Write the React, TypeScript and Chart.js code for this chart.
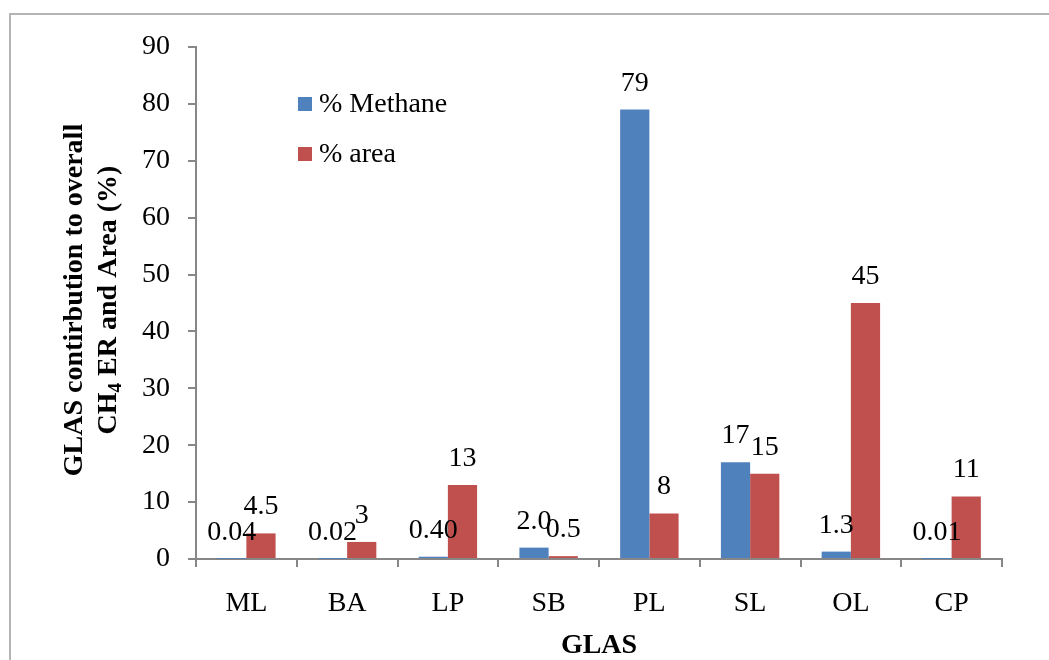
import React, { useEffect, useRef } from "react";
import { Chart, registerables } from "chart.js";

Chart.register(...registerables);

const categories = ["ML", "BA", "LP", "SB", "PL", "SL", "OL", "CP"];
const methaneValues = [0.04, 0.02, 0.4, 2.0, 79, 17, 1.3, 0.01];
const areaValues = [4.5, 3, 13, 0.5, 8, 15, 45, 11];
const methaneLabels = ["0.04", "0.02", "0.40", "2.0", "79", "17", "1.3", "0.01"];
const areaLabels = ["4.5", "3", "13", "0.5", "8", "15", "45", "11"];
const seriesNames = ["% Methane", "% area"];
const colors = ["#4F81BD", "#C0504D"];

const FONT = "'Liberation Serif', 'Times New Roman', serif";

const decorPlugin = {
  id: "decor",
  beforeDraw(chart: any) {
    const ctx = chart.ctx;
    ctx.save();
    ctx.fillStyle = "#fff";
    ctx.fillRect(0, 0, chart.width, chart.height);
    ctx.strokeStyle = "#B4B4B4";
    ctx.lineWidth = 2;
    ctx.strokeRect(10, 14, 1200, 800);
    ctx.restore();
  },
  afterDraw(chart: any) {
    const ctx = chart.ctx;
    const area = chart.chartArea;
    ctx.save();
    // data labels
    ctx.fillStyle = "#000";
    ctx.font = `28px ${FONT}`;
    ctx.textAlign = "center";
    ctx.textBaseline = "alphabetic";
    const labelSets = [methaneLabels, areaLabels];
    chart.data.datasets.forEach((ds: any, di: number) => {
      const meta = chart.getDatasetMeta(di);
      meta.data.forEach((bar: any, i: number) => {
        ctx.fillText(labelSets[di][i], bar.x, bar.y - 19);
      });
    });
    // legend
    const lx = 298;
    const ly = [104, 154];
    seriesNames.forEach((name, i) => {
      ctx.fillStyle = colors[i];
      ctx.fillRect(lx, ly[i] - 7, 14, 14);
      ctx.fillStyle = "#000";
      ctx.textAlign = "left";
      ctx.textBaseline = "alphabetic";
      ctx.font = `28px ${FONT}`;
      ctx.fillText(name, lx + 21, ly[i] + 8);
    });
    // x title
    ctx.font = `bold 28px ${FONT}`;
    ctx.textAlign = "center";
    ctx.textBaseline = "alphabetic";
    ctx.fillText("GLAS", (area.left + area.right) / 2, 653);
    // y title
    const cy = 300;
    ctx.translate(0, cy);
    ctx.rotate(-Math.PI / 2);
    ctx.font = `bold 28px ${FONT}`;
    ctx.textAlign = "center";
    ctx.fillText("GLAS contirbution to overall", 0, 82);
    // second line with subscript
    const parts = [
      { t: "CH", size: 28, dy: 0 },
      { t: "4", size: 19, dy: 5 },
      { t: " ER and Area (%)", size: 28, dy: 0 },
    ];
    let total = 0;
    parts.forEach((p) => {
      ctx.font = `bold ${p.size}px ${FONT}`;
      total += ctx.measureText(p.t).width;
    });
    let x = -total / 2;
    ctx.textAlign = "left";
    parts.forEach((p) => {
      ctx.font = `bold ${p.size}px ${FONT}`;
      ctx.fillText(p.t, x, 116 + p.dy);
      x += ctx.measureText(p.t).width;
    });
    ctx.restore();
  },
};

export default function App() {
  const ref = useRef<HTMLCanvasElement | null>(null);
  useEffect(() => {
    if (!ref.current) return;
    const chart = new Chart(ref.current, {
      type: "bar",
      data: {
        labels: categories,
        datasets: [
          {
            label: seriesNames[0],
            data: methaneValues,
            backgroundColor: colors[0],
            categoryPercentage: 0.58,
            barPercentage: 1.0,
          },
          {
            label: seriesNames[1],
            data: areaValues,
            backgroundColor: colors[1],
            categoryPercentage: 0.58,
            barPercentage: 1.0,
          },
        ],
      },
      options: {
        responsive: false,
        animation: false,
        layout: { padding: { left: 0, right: 47, top: 47, bottom: 0 } },
        plugins: {
          legend: { display: false },
          tooltip: { enabled: false },
        },
        scales: {
          x: {
            afterFit: (s: any) => {
              s.height = 101;
            },
            grid: {
              display: true,
              drawOnChartArea: false,
              drawTicks: true,
              tickLength: 8,
              color: "#878787",
              lineWidth: 2,
              offset: true,
            },
            border: { display: true, color: "#878787", width: 2 },
            ticks: {
              color: "#000",
              font: { family: FONT, size: 28 },
              padding: 20,
              maxRotation: 0,
            },
          },
          y: {
            min: 0,
            max: 90,
            afterFit: (s: any) => {
              s.width = 196;
            },
            grid: {
              display: true,
              drawOnChartArea: false,
              drawTicks: true,
              tickLength: 8,
              color: "#878787",
              lineWidth: 2,
            },
            border: { display: true, color: "#878787", width: 2 },
            ticks: {
              stepSize: 10,
              color: "#000",
              font: { family: FONT, size: 28 },
              padding: 18,
            },
          },
        },
      },
      plugins: [decorPlugin],
    });
    return () => chart.destroy();
  }, []);
  return (
    <div style={{ position: "fixed", left: 0, top: 0, width: 1049, height: 660, background: "#fff" }}>
      <canvas ref={ref} width={1049} height={660} style={{ width: 1049, height: 660 }} />
    </div>
  );
}
